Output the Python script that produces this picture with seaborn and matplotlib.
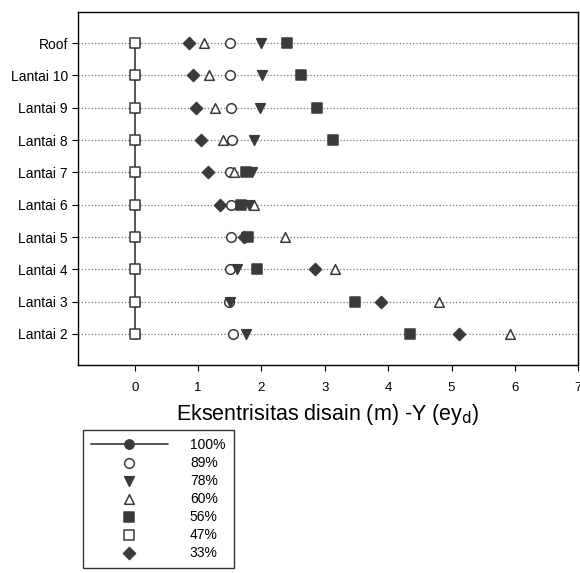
import numpy as np
import pandas as pd
import matplotlib
matplotlib.use("Agg")
import matplotlib.pyplot as plt
import seaborn as sns

# floor levels, top to bottom
levels = ["Roof", "Lantai 10", "Lantai 9", "Lantai 8", "Lantai 7",
          "Lantai 6", "Lantai 5", "Lantai 4", "Lantai 3", "Lantai 2"]

# design eccentricity ey_d (m) per level, one list per series
ecc_100 = [0, 0, 0, 0, 0, 0, 0, 0, 0, 0]
ecc_89 = [1.51, 1.51, 1.52, 1.53, 1.51, 1.52, 1.52, 1.50, 1.48, 1.55]
ecc_78 = [2.00, 2.01, 1.97, 1.89, 1.85, 1.80, 1.75, 1.62, 1.50, 1.75]
ecc_60 = [1.10, 1.17, 1.27, 1.40, 1.57, 1.89, 2.37, 3.16, 4.80, 5.92]
ecc_56 = [2.40, 2.63, 2.87, 3.13, 1.75, 1.68, 1.78, 1.93, 3.48, 4.34]
ecc_47 = [0, 0, 0, 0, 0, 0, 0, 0, 0, 0]
ecc_33 = [0.85, 0.92, 0.97, 1.04, 1.15, 1.34, 1.72, 2.85, 3.89, 5.12]

x_ticks = [0, 1, 2, 3, 4, 5, 6, 7]

sns.set_style("white")
plt.rcParams["font.family"] = ["Liberation Sans", "DejaVu Sans"]
plt.rcParams["text.color"] = "black"
plt.rcParams["xtick.color"] = "black"
plt.rcParams["ytick.color"] = "black"
plt.rcParams["axes.labelcolor"] = "black"

dark = "#3a3a3a"
pos = np.arange(len(levels))

fig = plt.figure(figsize=(5.8, 5.73), dpi=100)
ax = fig.add_axes([0.134, 0.363, 0.863, 0.616])

# 100% series: line with filled circles
sns.lineplot(x=ecc_100, y=pos, orient="y", sort=False, ax=ax, color=dark,
             marker="o", markersize=7, markeredgecolor=dark, linewidth=1.2,
             label="100%", zorder=2)

series = [
    ("89%", ecc_89, "o", "white"),
    ("78%", ecc_78, "v", dark),
    ("60%", ecc_60, "^", "white"),
    ("56%", ecc_56, "s", dark),
    ("47%", ecc_47, "s", "white"),
    ("33%", ecc_33, "D", dark),
]
for name, vals, mk, face in series:
    sns.scatterplot(x=vals, y=pos, ax=ax, marker=mk, color=face,
                    edgecolor=dark, linewidth=1.1, s=48 if mk != "D" else 38,
                    label=name, zorder=3)

ax.set_xlim(-0.9, 7.0)
ax.set_ylim(len(levels) - 0.04, -0.96)
ax.set_yticks(pos)
ax.set_yticklabels(levels, fontsize=10)
ax.set_xticks(x_ticks)
ax.set_xticklabels([str(t) for t in x_ticks], fontsize=9.5)
ax.tick_params(axis="both", direction="out", length=4, width=0.8, color="black",
               left=True, bottom=True, pad=3)
ax.tick_params(axis="x", pad=8)
ax.grid(axis="y", linestyle=":", color="#777777", linewidth=0.9)
ax.grid(axis="x", visible=False)
for sp in ax.spines.values():
    sp.set_color("black")
    sp.set_linewidth(1.0)

ax.set_xlabel("Eksentrisitas disain (m) -Y (ey$_\\mathrm{d}$)", fontsize=15.5,
              labelpad=6)
ax.set_ylabel("")

handles, labels = ax.get_legend_handles_labels()
ax.legend_.remove()
fig.legend(handles, labels, loc="lower left", bbox_to_anchor=(0.143, 0.009),
           frameon=True, fancybox=False, edgecolor="black", fontsize=10,
           handlelength=5.5, handletextpad=1.6, labelspacing=0.28,
           borderpad=0.6, borderaxespad=0)

fig.savefig("out.png", dpi=100)
